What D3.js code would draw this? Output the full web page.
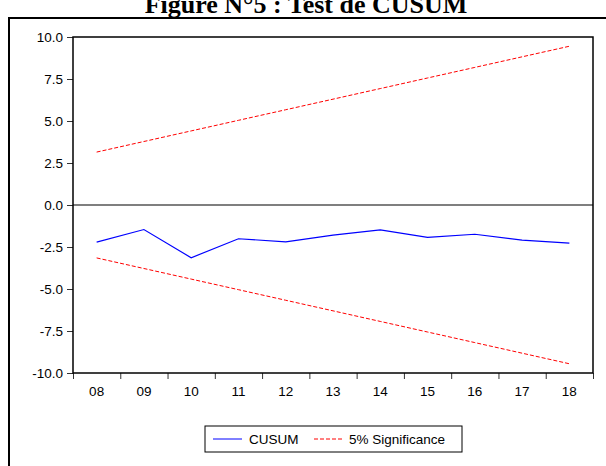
<!DOCTYPE html>
<html>
<head>
<meta charset="utf-8">
<script src="https://cdn.jsdelivr.net/npm/d3@7"></script>
<style>
  body { margin: 0; background: #fff; }
  text { font-family: "Liberation Sans", Arial, sans-serif; }
</style>
</head>
<body>
<div id="chart"></div>
<script>
// Chart values
var years = ["08", "09", "10", "11", "12", "13", "14", "15", "16", "17", "18"];
var cusum = [-2.21, -1.46, -3.14, -2.01, -2.19, -1.79, -1.48, -1.93, -1.74, -2.09, -2.27];
var upper = [3.15, 3.78, 4.41, 5.04, 5.67, 6.30, 6.93, 7.56, 8.19, 8.82, 9.45];
var lower = [-3.15, -3.78, -4.41, -5.04, -5.67, -6.30, -6.93, -7.56, -8.19, -8.82, -9.45];
var yTicks = [-10, -7.5, -5, -2.5, 0, 2.5, 5, 7.5, 10];

var svgWidth = 606;
var svgHeight = 466;

// Plot box
var plot = { left: 73, right: 593, top: 37, bottom: 373 };

var svg = d3.select("#chart")
  .append("svg")
  .attr("width", svgWidth)
  .attr("height", svgHeight);

// Title (cut off at the top, as in the original scan)
svg.append("text")
  .attr("x", 306)
  .attr("y", 13)
  .attr("text-anchor", "middle")
  .style("font-family", "'Liberation Serif', 'Times New Roman', serif")
  .style("font-weight", "bold")
  .style("font-size", "26px")
  .text("Figure N°5 : Test de CUSUM");

// Outer frame
svg.append("rect")
  .attr("x", 9)
  .attr("y", 18)
  .attr("width", 620)
  .attr("height", 500)
  .attr("fill", "none")
  .attr("stroke", "#000")
  .attr("stroke-width", 2);

var x = d3.scaleBand().domain(years).range([plot.left, plot.right]).padding(0);
var xEdge = d3.scaleLinear().domain([0, years.length]).range([plot.left, plot.right]);
var y = d3.scaleLinear().domain([-10, 10]).range([plot.bottom, plot.top]);

var fmt = function(d) { return d3.format(".1f")(d).replace("\u2212", "-"); };

// Left axis
var yAxis = svg.append("g")
  .attr("transform", `translate(${plot.left},0)`)
  .call(d3.axisLeft(y).tickValues(yTicks).tickFormat(fmt).tickSize(6).tickPadding(4));
yAxis.select(".domain").remove();
yAxis.selectAll("text").style("font-size", "13.5px").attr("fill", "#000");
yAxis.selectAll("line").attr("stroke", "#333");

// Bottom axis: ticks on band edges, labels at band centres
var xTicks = svg.append("g")
  .attr("transform", `translate(0,${plot.bottom})`)
  .call(d3.axisBottom(xEdge).tickValues(d3.range(years.length + 1)).tickFormat("").tickSize(6));
xTicks.select(".domain").remove();
xTicks.selectAll("line").attr("stroke", "#333");

var xLabels = svg.append("g")
  .attr("transform", `translate(0,${plot.bottom})`)
  .call(d3.axisBottom(x).tickSize(0).tickPadding(13));
xLabels.select(".domain").remove();
xLabels.selectAll("text").style("font-size", "13.5px").attr("fill", "#000");

// Plot frame and zero line
svg.append("rect")
  .attr("x", plot.left)
  .attr("y", plot.top)
  .attr("width", plot.right - plot.left)
  .attr("height", plot.bottom - plot.top)
  .attr("fill", "none")
  .attr("stroke", "#000")
  .attr("stroke-width", 1.5);

svg.append("line")
  .attr("x1", plot.left).attr("x2", plot.right)
  .attr("y1", y(0)).attr("y2", y(0))
  .attr("stroke", "#000")
  .attr("stroke-width", 1.2);

var line = d3.line()
  .x(function(d, i) { return x(years[i]) + x.bandwidth() / 2; })
  .y(function(d) { return y(d); });

[upper, lower].forEach(function(s) {
  svg.append("path")
    .datum(s)
    .attr("d", line)
    .attr("fill", "none")
    .attr("stroke", "#ff0000")
    .attr("stroke-width", 1)
    .attr("stroke-dasharray", "4,2");
});

svg.append("path")
  .datum(cusum)
  .attr("d", line)
  .attr("fill", "none")
  .attr("stroke", "#0000ff")
  .attr("stroke-width", 1.2);

// Legend
var legend = svg.append("g").attr("transform", "translate(205,426)");
legend.append("rect")
  .attr("width", 257)
  .attr("height", 26)
  .attr("fill", "#fff")
  .attr("stroke", "#000")
  .attr("stroke-width", 1);
legend.append("line")
  .attr("x1", 8).attr("x2", 37).attr("y1", 13).attr("y2", 13)
  .attr("stroke", "#0000ff").attr("stroke-width", 1);
legend.append("text")
  .attr("x", 44).attr("y", 18)
  .style("font-size", "13.5px")
  .text("CUSUM");
legend.append("line")
  .attr("x1", 109).attr("x2", 138).attr("y1", 13).attr("y2", 13)
  .attr("stroke", "#ff0000").attr("stroke-width", 1)
  .attr("stroke-dasharray", "4,2");
legend.append("text")
  .attr("x", 144).attr("y", 18)
  .style("font-size", "13.5px")
  .text("5% Significance");
</script>
</body>
</html>
